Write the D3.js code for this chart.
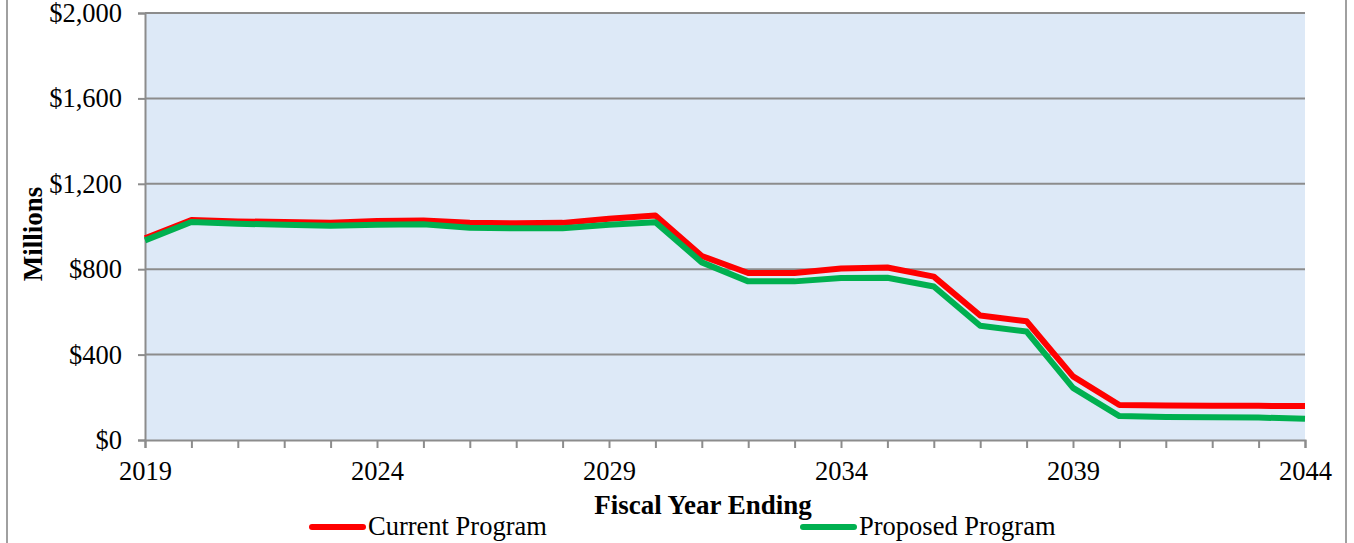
<!DOCTYPE html>
<html>
<head>
<meta charset="utf-8">
<script src="https://cdn.jsdelivr.net/npm/d3@7"></script>
<style>
  body { margin: 0; background: #fff; }
  svg { display: block; }
</style>
</head>
<body>
<div id="chart"></div>
<script>
// data (millions of dollars)
const years = [2019, 2020, 2021, 2022, 2023, 2024, 2025, 2026, 2027, 2028, 2029, 2030, 2031,
  2032, 2033, 2034, 2035, 2036, 2037, 2038, 2039, 2040, 2041, 2042, 2043, 2044];
const currentProgram = [945, 1030, 1024, 1021, 1018, 1026, 1028, 1017, 1015, 1017, 1036, 1052, 862,
  782, 782, 803, 808, 765, 583, 556, 298, 164, 162, 161, 160, 159];
const proposedProgram = [935, 1021, 1013, 1008, 1003, 1008, 1010, 994, 992, 992, 1008, 1020, 832,
  743, 743, 759, 760, 719, 535, 508, 244, 112, 108, 107, 105, 100];
const seriesNames = ["Current Program", "Proposed Program"];
const yTicks = [0, 400, 800, 1200, 1600, 2000];
const xLabelYears = [2019, 2024, 2029, 2034, 2039, 2044];

const width = 1354;
const height = 543;
const margin = { left: 145, right: 49, top: 13, bottom: 103 };
const colors = ["#ff0000", "#00b050"];
const gridColor = "#8c8c8c";
const font = "'Liberation Serif', 'Times New Roman', serif";
const fontSize = 26.5;

const svg = d3.select("#chart")
  .append("svg")
  .attr("width", width)
  .attr("height", height);

// outer frame of the chart (only the sides show)
svg.append("rect")
  .attr("x", 7)
  .attr("y", -10)
  .attr("width", 1339)
  .attr("height", height + 20)
  .attr("fill", "none")
  .attr("stroke", "#a0a0a0")
  .attr("stroke-width", 2);

const plotW = width - margin.left - margin.right;
const plotH = height - margin.top - margin.bottom;

const xScale = d3.scaleLinear()
  .domain([2019, 2044])
  .range([0, plotW]);

const yScale = d3.scaleLinear()
  .domain([0, 2000])
  .range([plotH, 0]);

const g = svg.append("g")
  .attr("transform", "translate(" + margin.left + "," + margin.top + ")");

// plot area background
g.append("rect")
  .attr("width", plotW)
  .attr("height", plotH)
  .attr("fill", "#dde9f7");

// gridlines
g.append("g")
  .selectAll("line")
  .data(yTicks.filter(d => d > 0))
  .join("line")
  .attr("x1", 0)
  .attr("x2", plotW)
  .attr("y1", d => yScale(d))
  .attr("y2", d => yScale(d))
  .attr("stroke", gridColor)
  .attr("stroke-width", 2);

// y axis
const yAxis = d3.axisLeft(yScale)
  .tickValues(yTicks)
  .tickSize(7)
  .tickPadding(16)
  .tickFormat(d => "$" + d3.format(",")(d));

const yAxisG = g.append("g").call(yAxis);

// x axis, tick every year, label every five
const xAxis = d3.axisBottom(xScale)
  .tickValues(years)
  .tickSize(8)
  .tickPadding(13)
  .tickFormat(d => xLabelYears.includes(d) ? d : "");

const xAxisG = g.append("g")
  .attr("transform", "translate(0," + plotH + ")")
  .call(xAxis);

[yAxisG, xAxisG].forEach(ax => {
  ax.select(".domain").attr("stroke", gridColor).attr("stroke-width", 2);
  ax.selectAll(".tick line").attr("stroke", gridColor).attr("stroke-width", 2);
  ax.selectAll("text")
    .attr("font-family", font)
    .attr("font-size", fontSize)
    .attr("fill", "#000");
});

// lines (green drawn over red)
const line = d3.line()
  .x((d, i) => xScale(years[i]))
  .y(d => yScale(d));

[currentProgram, proposedProgram].forEach((vals, i) => {
  g.append("path")
    .attr("d", line(vals))
    .attr("fill", "none")
    .attr("stroke", colors[i])
    .attr("stroke-width", 6)
    .attr("stroke-linejoin", "round");
});

// axis titles
svg.append("text")
  .attr("transform", "translate(42,234) rotate(-90)")
  .attr("text-anchor", "middle")
  .attr("font-family", font)
  .attr("font-weight", "bold")
  .attr("font-size", 27)
  .text("Millions");

svg.append("text")
  .attr("x", 703)
  .attr("y", 514)
  .attr("text-anchor", "middle")
  .attr("font-family", font)
  .attr("font-weight", "bold")
  .attr("font-size", 27)
  .text("Fiscal Year Ending");

// legend
const legendX = [309, 800];
const legend = svg.append("g")
  .selectAll("g")
  .data(seriesNames)
  .join("g")
  .attr("transform", (d, i) => "translate(" + legendX[i] + ",527)");

legend.append("line")
  .attr("x1", 3)
  .attr("x2", 54)
  .attr("stroke", (d, i) => colors[i])
  .attr("stroke-width", 6)
  .attr("stroke-linecap", "round");

legend.append("text")
  .attr("x", 59)
  .attr("y", 8)
  .attr("font-family", font)
  .attr("font-size", fontSize)
  .text(d => d);
</script>
</body>
</html>
